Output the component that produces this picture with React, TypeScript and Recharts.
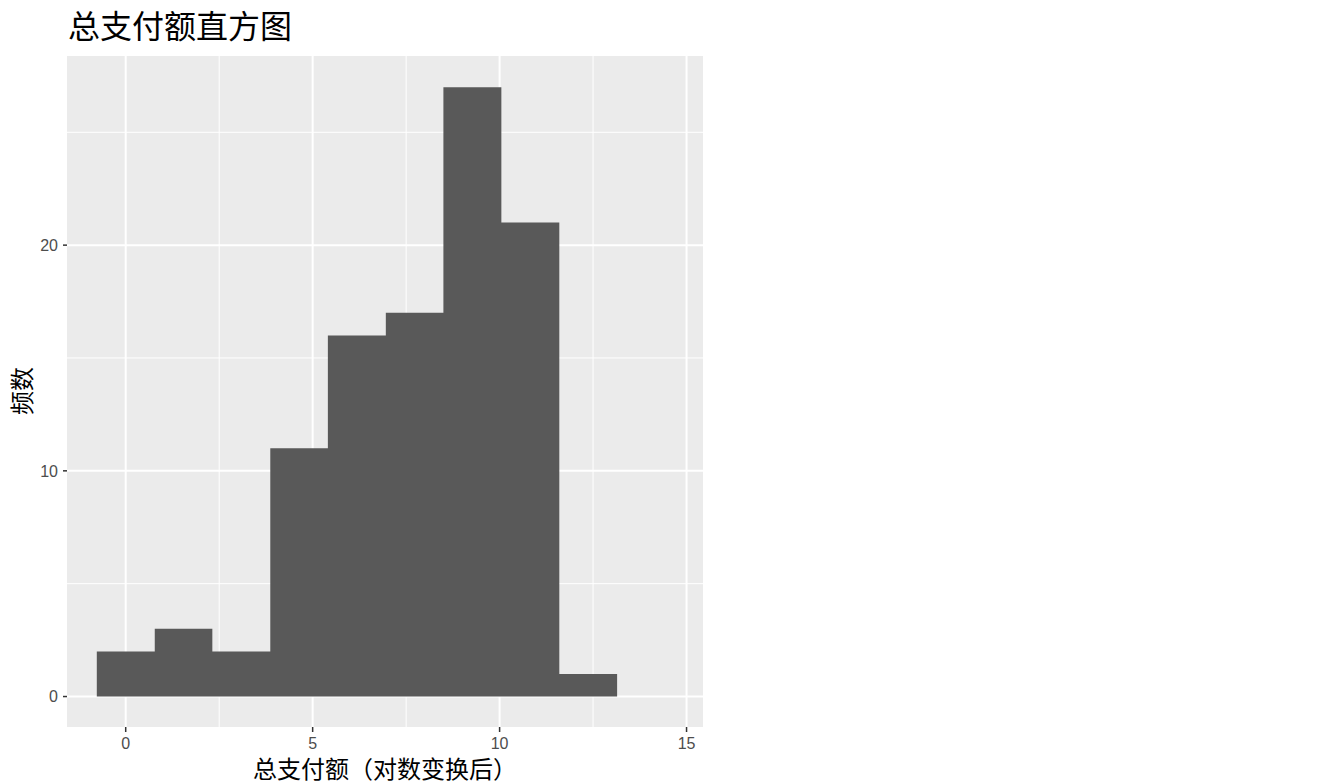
import React from "react";
import { ComposedChart, Area, XAxis, YAxis, CartesianGrid } from "recharts";

// histogram of log-transformed total payment
const binCenters = [0, 1.55, 3.09, 4.64, 6.18, 7.73, 9.27, 10.82, 12.37];
const counts = [2, 3, 2, 11, 16, 17, 27, 21, 1];
const binWidth = 1.546;

const xTicks = [0, 5, 10, 15];
const xMinor = [2.5, 7.5, 12.5];
const yTicks = [0, 10, 20];
const yMinor = [5, 15, 25];

const TITLE = "总支付额直方图";
const X_LABEL = "总支付额（对数变换后）";
const Y_LABEL = "频数";

// step outline: one row per left bin edge, plus the closing right edge
const steps = binCenters.map((c, i) => ({ x: c - binWidth / 2, count: counts[i] }));
steps.push({
  x: binCenters[binCenters.length - 1] + binWidth / 2,
  count: counts[counts.length - 1],
});

const CJK = '"Noto Sans CJK SC", "Noto Sans", sans-serif';
const tickStyle = { fill: "#4D4D4D", fontSize: 16, fontFamily: '"Liberation Sans", Arial, sans-serif' };

export default function App() {
  return (
    <div
      style={{
        position: "absolute",
        left: 0,
        top: 0,
        width: 1338,
        height: 784,
        background: "#fff",
        fontFamily: CJK,
        overflow: "hidden",
      }}
    >
      <div
        style={{
          position: "absolute",
          left: 68,
          top: 8,
          fontSize: 32,
          lineHeight: "32px",
          color: "#000",
          whiteSpace: "nowrap",
        }}
      >
        {TITLE}
      </div>

      <ComposedChart
        width={1338}
        height={784}
        data={steps}
        margin={{ top: 56, right: 635, bottom: 0, left: 0 }}
      >
        <CartesianGrid
          fill="#EBEBEB"
          stroke="#FFFFFF"
          strokeWidth={1}
          verticalValues={xMinor}
          horizontalValues={yMinor}
        />
        <CartesianGrid
          stroke="#FFFFFF"
          strokeWidth={2}
          verticalValues={xTicks}
          horizontalValues={yTicks}
        />
        <XAxis
          type="number"
          dataKey="x"
          domain={[-1.57, 15.44]}
          ticks={xTicks}
          allowDataOverflow
          height={57}
          axisLine={false}
          tickSize={5}
          tickMargin={6}
          tickLine={{ stroke: "#333333", strokeWidth: 1.5 }}
          tick={tickStyle}
        />
        <YAxis
          type="number"
          domain={[-1.35, 28.38]}
          ticks={yTicks}
          allowDataOverflow
          width={67}
          axisLine={false}
          tickSize={4}
          tickMargin={5}
          tickLine={{ stroke: "#333333", strokeWidth: 1.5 }}
          tick={tickStyle}
        />
        <Area
          type="stepAfter"
          dataKey="count"
          baseValue={0}
          fill="#595959"
          fillOpacity={1}
          stroke="none"
          dot={false}
          activeDot={false}
          isAnimationActive={false}
        />
      </ComposedChart>

      <div
        style={{
          position: "absolute",
          left: 67,
          width: 636,
          top: 756,
          textAlign: "center",
          fontSize: 24,
          lineHeight: "24px",
          color: "#000",
          whiteSpace: "nowrap",
        }}
      >
        {X_LABEL}
      </div>
      <div
        style={{
          position: "absolute",
          left: 21,
          top: 391,
          transform: "translate(-50%, -50%) rotate(-90deg)",
          fontSize: 24,
          lineHeight: "24px",
          color: "#000",
          whiteSpace: "nowrap",
        }}
      >
        {Y_LABEL}
      </div>
    </div>
  );
}
